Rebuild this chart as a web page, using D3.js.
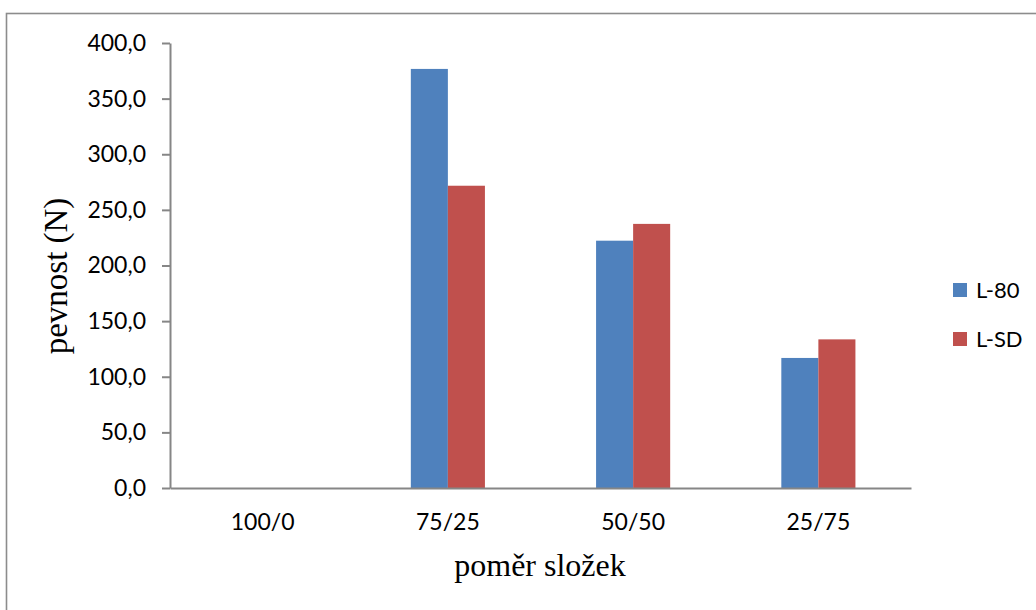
<!DOCTYPE html>
<html>
<head>
<meta charset="utf-8">
<script src="https://cdn.jsdelivr.net/npm/d3@7"></script>
<style>
  html, body { margin: 0; padding: 0; background: #fff; }
  svg { display: block; }
</style>
</head>
<body>
<svg id="chart" width="1036" height="610"></svg>
<script>
const categories = ["100/0", "75/25", "50/50", "25/75"];
const seriesNames = ["L-80", "L-SD"];
const valuesL80 = [0, 376.7, 222.3, 116.9];
const valuesLSD = [0, 271.7, 237.4, 133.6];
const yTicks = [0, 50, 100, 150, 200, 250, 300, 350, 400];
const colors = ["#4F81BD", "#C0504D"];
const yTitle = "pevnost (N)";
const xTitle = "poměr složek";

(function () {
const svg = d3.select("#chart");
const tickFont = "Lato, 'Open Sans', sans-serif";
const serif = "'Liberation Serif', 'DejaVu Serif', serif";

// outer chart border
svg.append("rect")
  .attr("x", 6.5).attr("y", 13.5)
  .attr("width", 1100).attr("height", 700)
  .attr("fill", "none").attr("stroke", "#8c8c8c").attr("stroke-width", 1.6);

const pLeft = 170, pRight = 911, pTop = 43, pBottom = 488;

const x0 = d3.scaleBand().domain(categories).range([pLeft, pRight]).paddingInner(0).paddingOuter(0);
const x1 = d3.scaleBand().domain(seriesNames).range([0, x0.bandwidth()]).paddingInner(0).paddingOuter(1.5);
const y = d3.scaleLinear().domain([0, 400]).range([pBottom, pTop]);

const data = categories.map((c, i) => ({ cat: c, vals: [valuesL80[i], valuesLSD[i]] }));

// bars
const groups = svg.append("g").selectAll("g").data(data).join("g")
  .attr("transform", d => `translate(${x0(d.cat)},0)`);
groups.selectAll("rect")
  .data(d => d.vals.map((v, j) => ({ name: seriesNames[j], v, j })))
  .join("rect")
  .attr("x", d => x1(d.name))
  .attr("width", x1.bandwidth())
  .attr("y", d => y(d.v))
  .attr("height", d => y(0) - y(d.v))
  .attr("fill", d => colors[d.j]);

// y axis
const yAxis = d3.axisLeft(y)
  .tickValues(yTicks)
  .tickSize(8)
  .tickSizeOuter(0)
  .tickPadding(16)
  .tickFormat(d => d3.format(".1f")(d).replace(".", ","));
const gy = svg.append("g").attr("transform", `translate(${pLeft},0)`).call(yAxis);
gy.select(".domain").attr("stroke", "#868686").attr("stroke-width", 2);
gy.selectAll(".tick line").attr("stroke", "#868686").attr("stroke-width", 2);
gy.selectAll(".tick text")
  .attr("font-family", tickFont).attr("font-size", 23).attr("fill", "#000");

// x axis
const xAxis = d3.axisBottom(x0).tickSize(0).tickSizeOuter(0).tickPadding(26);
const gx = svg.append("g").attr("transform", `translate(0,${pBottom})`).call(xAxis);
gx.select(".domain").attr("stroke", "#868686").attr("stroke-width", 2);
gx.selectAll(".tick text")
  .attr("font-family", tickFont).attr("font-size", 23).attr("fill", "#000");

// axis titles
svg.append("text")
  .attr("transform", "translate(67,276) rotate(-90)")
  .attr("text-anchor", "middle")
  .attr("font-family", serif).attr("font-size", 33)
  .text(yTitle);
svg.append("text")
  .attr("x", 540).attr("y", 576)
  .attr("text-anchor", "middle")
  .attr("font-family", serif).attr("font-size", 32)
  .text(xTitle);

// legend
const legend = svg.append("g").selectAll("g").data(seriesNames).join("g")
  .attr("transform", (d, i) => `translate(953,${283 + i * 49})`);
legend.append("rect").attr("width", 14).attr("height", 14).attr("fill", (d, i) => colors[i]);
legend.append("text")
  .attr("x", 23).attr("y", 7).attr("dy", "0.35em")
  .attr("font-family", tickFont).attr("font-size", 22)
  .text(d => d);
})();
</script>
</body>
</html>
